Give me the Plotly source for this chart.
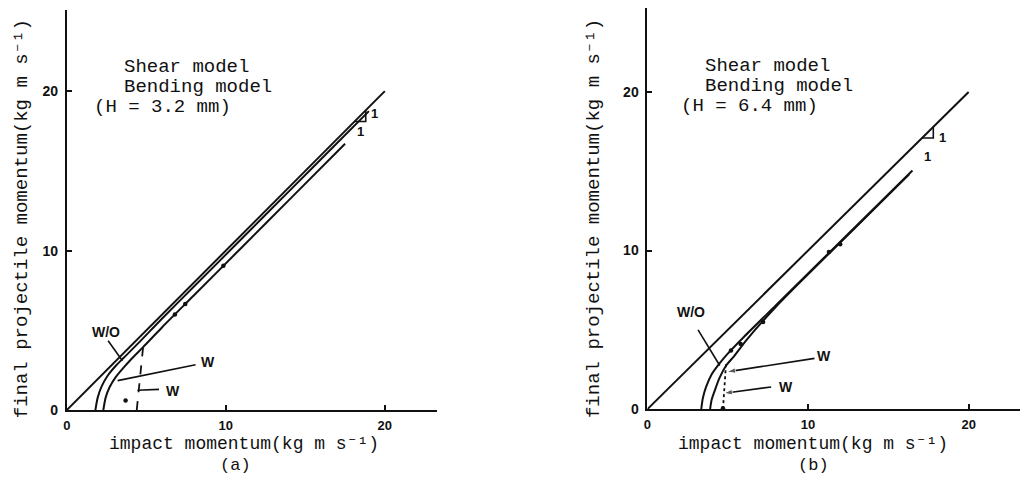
import plotly.graph_objects as go

# ---------------- data ----------------
# panel (a): H = 3.2 mm
a_ref_x = [0, 20]
a_ref_y = [0, 20]
a_shear_x = [1.8, 1.95, 2.2, 2.6, 3.1, 3.6, 4.5, 6, 8, 11, 14, 17, 19]
a_shear_y = [0, 0.8, 1.5, 2.2, 2.8, 3.3, 4.2, 5.75, 7.75, 10.75, 13.75, 16.75, 18.75]
a_bend_x = [2.3, 2.45, 2.7, 3.1, 3.6, 4.2, 4.8, 6, 8, 11, 14, 17.5]
a_bend_y = [0, 0.8, 1.45, 2.1, 2.7, 3.35, 3.95, 5.2, 7.2, 10.2, 13.2, 16.7]
a_exp_x = [3.7, 6.8, 7.45, 9.85]
a_exp_y = [0.6, 6.0, 6.65, 9.05]
a_limit_x = [4.4, 4.8]
a_limit_y = [0, 3.95]

# panel (b): H = 6.4 mm
b_ref_x = [0, 20]
b_ref_y = [0, 20]
b_shear_x = [3.35, 3.45, 3.65, 4.0, 4.5, 5.0, 6, 8, 10, 13, 16.5]
b_shear_y = [0, 0.7, 1.4, 2.2, 2.9, 3.5, 4.55, 6.55, 8.55, 11.55, 15.05]
b_bend_x = [3.9, 4.0, 4.2, 4.5, 4.9, 5.4, 6.2, 8, 10, 13, 16.3]
b_bend_y = [0, 0.6, 1.2, 2.0, 2.75, 3.35, 4.4, 6.45, 8.5, 11.5, 14.8]
b_exp_x = [4.7, 5.2, 5.8, 7.2, 11.3, 12.0]
b_exp_y = [0.05, 3.7, 4.1, 5.5, 9.9, 10.4]
b_limit_x = [4.7, 4.9]
b_limit_y = [0, 3.0]

tick_vals = [0, 10, 20]
tick_text = ["0", "10", "20"]

x_title = "impact momentum(kg m s\u207b\u00b9)"
y_title = "final projectile momentum(kg m s\u207b\u00b9)"
panel_labels = ["(a)", "(b)"]
legend_a = ["Shear model", "Bending model", "(H = 3.2 mm)"]
legend_b = ["Shear model", "Bending model", "(H = 6.4 mm)"]

# ---------------- figure ----------------
W, H = 1027, 485
MONO = "Liberation Mono, Courier New, monospace"
SANS = "Liberation Sans, Arial, sans-serif"
BLACK = "#111111"

fig = go.Figure()

def add_panel(xa, ya, ref_x, ref_y, sx, sy, bx, by, ex, ey, lx, ly, lim_dash):
    kw = dict(xaxis=xa, yaxis=ya, showlegend=False, hoverinfo="skip")
    line = dict(color=BLACK, width=2)
    fig.add_trace(go.Scatter(x=ref_x, y=ref_y, mode="lines", line=line, **kw))
    fig.add_trace(go.Scatter(x=sx, y=sy, mode="lines", line=dict(line, shape="spline", smoothing=0.8), **kw))
    fig.add_trace(go.Scatter(x=bx, y=by, mode="lines", line=dict(line, shape="spline", smoothing=0.8), **kw))
    fig.add_trace(go.Scatter(x=lx, y=ly, mode="lines", line=dict(color=BLACK, width=1.8, dash=lim_dash), **kw))
    fig.add_trace(go.Scatter(x=ex, y=ey, mode="markers", marker=dict(color=BLACK, size=4.5), **kw))

add_panel("x", "y", a_ref_x, a_ref_y, a_shear_x, a_shear_y, a_bend_x, a_bend_y,
          a_exp_x, a_exp_y, a_limit_x, a_limit_y, "dash")
add_panel("x2", "y2", b_ref_x, b_ref_y, b_shear_x, b_shear_y, b_bend_x, b_bend_y,
          b_exp_x, b_exp_y, b_limit_x, b_limit_y, "dot")

# slope triangles (1:1)
for xa, ya, x0, d in [("x", "y", 18.1, 0.7), ("x2", "y2", 17.1, 0.7)]:
    fig.add_trace(go.Scatter(x=[x0, x0 + d, x0 + d], y=[x0, x0, x0 + d], mode="lines",
                             line=dict(color=BLACK, width=1.6), xaxis=xa, yaxis=ya,
                             showlegend=False, hoverinfo="skip"))

# pointer lines (tail -> head), optional arrow head
def pointer(x_head, y_head, x_tail, y_tail, xa, ya, head=False):
    fig.add_trace(go.Scatter(
        x=[x_tail, x_head], y=[y_tail, y_head],
        mode="lines+markers" if head else "lines",
        line=dict(color=BLACK, width=1.6),
        marker=dict(symbol="arrow", angleref="previous", size=[0, 9], color=BLACK),
        xaxis=xa, yaxis=ya, showlegend=False, hoverinfo="skip"))

pointer(3.5, 3.1, 2.6, 4.35, "x", "y")
pointer(3.2, 1.85, 8.1, 2.85, "x", "y")
pointer(4.45, 1.25, 5.8, 1.3, "x", "y")
pointer(4.5, 2.75, 3.15, 5.0, "x2", "y2")
pointer(4.95, 2.35, 10.4, 3.2, "x2", "y2", head=True)
pointer(4.75, 1.0, 7.7, 1.4, "x2", "y2", head=True)

def axis_common(dom, rng, standoff, fsize):
    return dict(domain=dom, range=rng, showgrid=False, zeroline=False, showline=True,
                linecolor=BLACK, linewidth=2, ticks="inside", ticklen=5, tickwidth=1.5,
                tickcolor=BLACK, tickvals=tick_vals, ticktext=tick_text,
                tickfont=dict(family=SANS, size=fsize, color=BLACK, weight="bold"),
                ticklabelstandoff=standoff, fixedrange=True)

fig.update_layout(
    width=W, height=H, margin=dict(l=0, r=0, t=0, b=0),
    paper_bgcolor="white", plot_bgcolor="white",
    xaxis=dict(axis_common([63 / W, 435 / W], [0, 23.3], 2, 13), anchor="y"),
    yaxis=dict(axis_common([(H - 417) / H, (H - 10) / H], [0, 25.1], 4, 14), anchor="x"),
    xaxis2=dict(axis_common([646 / W, 1020 / W], [0, 23.2], 2, 13), anchor="y2"),
    yaxis2=dict(axis_common([(H - 416) / H, (H - 8) / H], [0, 25.3], 4, 14), anchor="x2"),
)

ann = []
def txt(x, y, s, xref, yref, size=19, family=MONO, xanchor="center", yanchor="middle",
        angle=0, weight="normal"):
    ann.append(dict(x=x, y=y, xref=xref, yref=yref, text=s, showarrow=False,
                    xanchor=xanchor, yanchor=yanchor, textangle=angle,
                    font=dict(family=family, size=size, color=BLACK, weight=weight)))

# axis titles & panel labels (paper coordinates from pixel positions)
for cx_y, cx_x, cx_p, lab in [(18, 241, 232, panel_labels[0]), (593, 812, 813, panel_labels[1])]:
    txt(cx_y / W, 1 - 222 / H, y_title, "paper", "paper", angle=-90)
    txt(cx_x / W, 1 - 451 / H, x_title, "paper", "paper", size=18)
    txt(cx_p / W, 1 - 473 / H, lab, "paper", "paper", size=17)

# model legend text
for (x0, x1, y0), lines in [((118, 88, 68), legend_a), ((702, 678, 67), legend_b)]:
    txt(x0 / W, 1 - y0 / H, lines[0], "paper", "paper", xanchor="left")
    txt(x0 / W, 1 - (y0 + 20) / H, lines[1], "paper", "paper", xanchor="left")
    txt(x1 / W, 1 - (y0 + 41) / H, lines[2], "paper", "paper", xanchor="left")

# slope "1" labels
txt(18.45, 17.5, "1", "x", "y", size=13, family=SANS, weight="bold")
txt(19.35, 18.6, "1", "x", "y", size=13, family=SANS, weight="bold")
txt(17.45, 15.9, "1", "x2", "y2", size=13, family=SANS, weight="bold")
txt(18.4, 17.1, "1", "x2", "y2", size=13, family=SANS, weight="bold")

# W / W/O labels
txt(2.45, 4.9, "W/O", "x", "y", size=14, family=SANS, weight="bold")
txt(8.9, 3.0, "W", "x", "y", size=14, family=SANS, weight="bold")
txt(6.7, 1.2, "W", "x", "y", size=14, family=SANS, weight="bold")
txt(2.7, 6.1, "W/O", "x2", "y2", size=14, family=SANS, weight="bold")
txt(11.0, 3.35, "W", "x2", "y2", size=14, family=SANS, weight="bold")
txt(8.6, 1.4, "W", "x2", "y2", size=14, family=SANS, weight="bold")

fig.update_layout(annotations=ann)
fig.write_html("out.html")
